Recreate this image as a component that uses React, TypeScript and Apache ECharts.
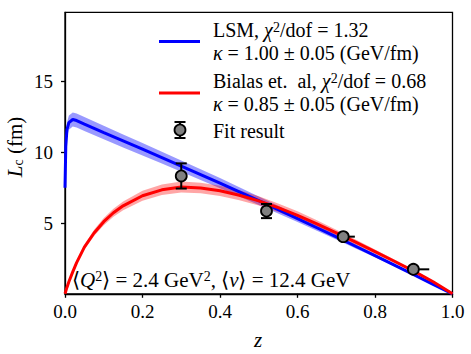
import React, { useEffect, useRef } from "react";
import * as echarts from "echarts";

// ---- data ----
const blueZ = [0, 0.002, 0.005, 0.01, 0.02, 0.03, 0.05, 0.1, 0.15, 0.2, 0.25, 0.3, 0.35, 0.4, 0.45, 0.5, 0.55, 0.6, 0.65, 0.7, 0.75, 0.8, 0.85, 0.9, 0.95, 1.0];
const blueL = [7.5, 10.4, 11.6, 12.1, 12.32, 12.25, 12.0, 11.4, 10.81, 10.22, 9.63, 9.03, 8.43, 7.82, 7.2, 6.58, 5.95, 5.31, 4.67, 4.02, 3.36, 2.7, 2.03, 1.35, 0.67, 0];
const blueUpper = [7.85, 10.85, 12.1, 12.6, 12.82, 12.75, 12.5, 11.88, 11.27, 10.66, 10.05, 9.43, 8.81, 8.18, 7.53, 6.88, 6.22, 5.55, 4.88, 4.2, 3.51, 2.82, 2.12, 1.42, 0.71, 0];
const blueLower = [7.15, 9.95, 11.1, 11.6, 11.82, 11.75, 11.5, 10.92, 10.35, 9.78, 9.21, 8.63, 8.05, 7.46, 6.87, 6.28, 5.68, 5.07, 4.46, 3.84, 3.21, 2.58, 1.94, 1.28, 0.63, 0];

const redZ = [0, 0.005, 0.01, 0.02, 0.03, 0.05, 0.075, 0.1, 0.125, 0.15, 0.2, 0.25, 0.3, 0.35, 0.4, 0.45, 0.5, 0.55, 0.6, 0.65, 0.7, 0.75, 0.8, 0.85, 0.9, 0.95, 1.0];
const redL = [0, 0.45, 0.85, 1.55, 2.2, 3.3, 4.3, 5.1, 5.73, 6.22, 6.93, 7.35, 7.55, 7.48, 7.28, 6.97, 6.57, 6.09, 5.55, 4.95, 4.3, 3.65, 2.98, 2.3, 1.6, 0.85, 0];
const redUpper = [0, 0.47, 0.89, 1.63, 2.31, 3.47, 4.52, 5.36, 6.02, 6.53, 7.28, 7.72, 7.93, 7.85, 7.64, 7.32, 6.9, 6.39, 5.83, 5.2, 4.52, 3.83, 3.13, 2.42, 1.68, 0.89, 0];
const redLower = [0, 0.43, 0.81, 1.47, 2.09, 3.13, 4.08, 4.84, 5.44, 5.91, 6.58, 6.98, 7.17, 7.11, 6.92, 6.62, 6.24, 5.79, 5.27, 4.7, 4.08, 3.47, 2.83, 2.18, 1.52, 0.81, 0];

const fitZ = [0.3, 0.52, 0.718, 0.899];
const fitL = [8.33, 5.85, 4.04, 1.73];
const fitYErr = [0.89, 0.5, 0.15, 0.15];
const fitXErrHigh = [0, 0, 0.03, 0.041];

const xTicks = [0, 0.2, 0.4, 0.6, 0.8, 1.0];
const yTicks = [5, 10, 15];

const FONT = "Liberation Serif";
const FS = 21; // annotation / titles
const LFS = 20; // legend
const TFS = 19; // tick labels

function makeRich(fs: number) {
  return {
    i: { fontFamily: FONT, fontSize: fs, fontStyle: "italic", fill: "#000" },
    sup: { fontFamily: FONT, fontSize: 14, fill: "#000", verticalAlign: "top", lineHeight: 13 },
    sub: { fontFamily: FONT, fontSize: 14, fill: "#000", verticalAlign: "bottom", lineHeight: 13 },
  };
}

function bandSeries(zs: number[], up: number[], lo: number[], fill: string, zz: number) {
  return {
    type: "custom",
    silent: true,
    z: zz,
    data: [[0, 0]],
    renderItem: (_p: any, api: any) => {
      const pts: number[][] = [];
      for (let i = 0; i < zs.length; i++) pts.push(api.coord([zs[i], up[i]]));
      for (let i = zs.length - 1; i >= 0; i--) pts.push(api.coord([zs[i], lo[i]]));
      return { type: "polygon", shape: { points: pts }, style: { fill } };
    },
  };
}

function txt(x: number, y: number, text: string, fs: number, extra: any = {}) {
  return {
    type: "text",
    x,
    y,
    silent: true,
    style: {
      text,
      fontFamily: FONT,
      fontSize: fs,
      fill: "#000",
      verticalAlign: "middle",
      align: "left",
      rich: makeRich(fs),
      ...extra,
    },
  };
}

export default function App() {
  const ref = useRef<HTMLDivElement>(null);
  useEffect(() => {
    if (!ref.current) return;
    const chart = echarts.init(ref.current, undefined, { renderer: "svg" });
    const fitData = fitZ.map((z, i) => [z, fitL[i], fitYErr[i], fitXErrHigh[i]]);
    const option: any = {
      animation: false,
      backgroundColor: "#fff",
      textStyle: { fontFamily: FONT },
      grid: {
        left: 65,
        top: 12.3,
        width: 387.5,
        height: 281.5,
        show: true,
        borderColor: "#000",
        borderWidth: 1.3,
        backgroundColor: "transparent",
        outerBoundsMode: "none",
        containLabel: false,
      },
      xAxis: {
        type: "value",
        min: 0,
        max: 1,
        interval: 0.2,
        splitLine: { show: false },
        axisLine: { show: true, lineStyle: { color: "#000", width: 1.3 } },
        axisTick: { show: true, length: 4, lineStyle: { color: "#000", width: 1.3 }, customValues: xTicks },
        axisLabel: {
          color: "#000",
          fontFamily: FONT,
          fontSize: TFS,
          margin: 8,
          customValues: xTicks,
          formatter: (v: number) => v.toFixed(1),
        },
      },
      yAxis: {
        type: "value",
        min: 0,
        max: 19.9,
        interval: 5,
        splitLine: { show: false },
        axisLine: { show: true, lineStyle: { color: "#000", width: 1.3 } },
        axisTick: { show: true, length: 4, lineStyle: { color: "#000", width: 1.3 }, customValues: yTicks },
        axisLabel: {
          color: "#000",
          fontFamily: FONT,
          fontSize: TFS,
          margin: 12,
          customValues: yTicks,
          formatter: (v: number) => String(v),
        },
      },
      series: [
        bandSeries(blueZ, blueUpper, blueLower, "rgba(0,0,255,0.4)", 1),
        bandSeries(redZ, redUpper, redLower, "rgba(255,0,0,0.35)", 2),
        {
          type: "line",
          z: 3,
          data: blueZ.map((z, i) => [z, blueL[i]]),
          showSymbol: false,
          smooth: false,
          lineStyle: { color: "#0000ff", width: 3 },
          silent: true,
        },
        {
          type: "line",
          z: 4,
          data: redZ.map((z, i) => [z, redL[i]]),
          showSymbol: false,
          smooth: false,
          lineStyle: { color: "#ff0000", width: 3 },
          silent: true,
        },
        {
          type: "custom",
          z: 5,
          silent: true,
          data: fitData,
          encode: { x: 0, y: 1 },
          renderItem: (_p: any, api: any) => {
            const z = api.value(0);
            const y = api.value(1);
            const ye = api.value(2);
            const xe = api.value(3);
            const top = api.coord([z, y + ye]);
            const bot = api.coord([z, y - ye]);
            const right = api.coord([z + xe, y]);
            const c = api.coord([z, y]);
            const st = { stroke: "#000", lineWidth: 2 };
            const cap = 5.5;
            return {
              type: "group",
              children: [
                { type: "line", shape: { x1: top[0], y1: top[1], x2: bot[0], y2: bot[1] }, style: st },
                { type: "line", shape: { x1: top[0] - cap, y1: top[1], x2: top[0] + cap, y2: top[1] }, style: st },
                { type: "line", shape: { x1: bot[0] - cap, y1: bot[1], x2: bot[0] + cap, y2: bot[1] }, style: st },
                { type: "line", shape: { x1: c[0], y1: c[1], x2: right[0], y2: right[1] }, style: st },
              ],
            };
          },
        },
        {
          type: "scatter",
          z: 6,
          silent: true,
          data: fitZ.map((z, i) => [z, fitL[i]]),
          symbol: "circle",
          symbolSize: 11,
          itemStyle: { color: "#808080", borderColor: "#000", borderWidth: 1.8, opacity: 1 },
        },
      ],
      graphic: [
        // legend
        { type: "line", silent: true, shape: { x1: 159, y1: 41.5, x2: 200, y2: 41.5 }, style: { stroke: "#0000ff", lineWidth: 3 } },
        { type: "line", silent: true, shape: { x1: 159, y1: 93, x2: 200, y2: 93 }, style: { stroke: "#ff0000", lineWidth: 3 } },
        { type: "line", silent: true, shape: { x1: 180, y1: 122, x2: 180, y2: 138 }, style: { stroke: "#000", lineWidth: 2 } },
        { type: "line", silent: true, shape: { x1: 174.5, y1: 122, x2: 185.5, y2: 122 }, style: { stroke: "#000", lineWidth: 2 } },
        { type: "line", silent: true, shape: { x1: 174.5, y1: 138, x2: 185.5, y2: 138 }, style: { stroke: "#000", lineWidth: 2 } },
        { type: "circle", silent: true, shape: { cx: 180, cy: 130, r: 5.5 }, style: { fill: "#808080", stroke: "#000", lineWidth: 1.8 } },
        txt(213, 30, "LSM, {i|χ}{sup|2}/dof = 1.32", LFS),
        txt(213, 53, "{i|κ} = 1.00 ± 0.05 (GeV/fm)", LFS),
        txt(213, 81, "Bialas et.  al, {i|χ}{sup|2}/dof = 0.68", LFS),
        txt(213, 104, "{i|κ} = 0.85 ± 0.05 (GeV/fm)", LFS),
        txt(213, 131, "Fit result", LFS),
        // annotation
        txt(72, 280, "⟨{i|Q}{sup|2}⟩ = 2.4 GeV{sup|2}, ⟨{i|ν}⟩ = 12.4 GeV", FS),
        // axis titles
        txt(258, 340, "{i|z}", FS, { align: "center" }),
        {
          type: "text",
          x: 15,
          y: 147,
          rotation: Math.PI / 2,
          silent: true,
          style: {
            text: "{i|L}{sub|c} (fm)",
            fontFamily: FONT,
            fontSize: FS,
            fill: "#000",
            align: "center",
            verticalAlign: "middle",
            rich: makeRich(FS),
          },
        },
      ],
    };
    chart.setOption(option);
    return () => chart.dispose();
  }, []);
  return <div ref={ref} style={{ position: "fixed", left: 0, top: 0, width: 471, height: 354 }} />;
}
